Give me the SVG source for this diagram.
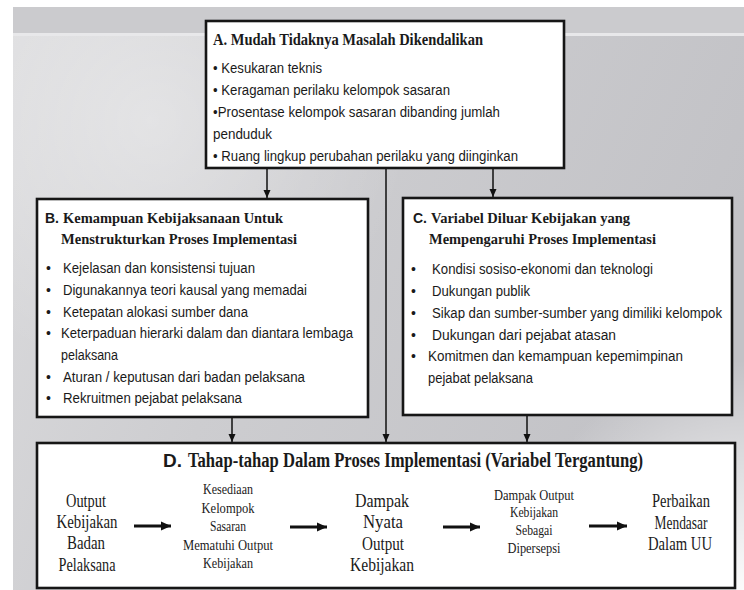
<svg xmlns="http://www.w3.org/2000/svg" width="744" height="590" viewBox="0 0 744 590">
<defs>
<linearGradient id="bg" x1="0" y1="0" x2="1" y2="0.35">
<stop offset="0" stop-color="#dcdcde"/>
<stop offset="0.45" stop-color="#cdcdd0"/>
<stop offset="1" stop-color="#c2c2c6"/>
</linearGradient>
<radialGradient id="glow" cx="744" cy="590" r="230" gradientUnits="userSpaceOnUse">
<stop offset="0" stop-color="#ffffff" stop-opacity="0.95"/>
<stop offset="0.6" stop-color="#ffffff" stop-opacity="0.4"/>
<stop offset="1" stop-color="#ffffff" stop-opacity="0"/>
</radialGradient>
<radialGradient id="glow2" cx="150" cy="120" r="260" gradientUnits="userSpaceOnUse">
<stop offset="0" stop-color="#ffffff" stop-opacity="0.35"/>
<stop offset="1" stop-color="#ffffff" stop-opacity="0"/>
</radialGradient>
<marker id="ah" viewBox="0 0 8 8" refX="8" refY="4" markerWidth="8" markerHeight="8" markerUnits="userSpaceOnUse" orient="auto">
<path d="M0,0.5 L8,4 L0,7.5 Z" fill="#111"/>
</marker>
<marker id="ahb" viewBox="0 0 10 10" refX="10" refY="5" markerWidth="10" markerHeight="10" markerUnits="userSpaceOnUse" orient="auto">
<path d="M0,0.5 L10,5 L0,9.5 Z" fill="#111"/>
</marker>
<style>
.box{fill:#fff;stroke:#161616;stroke-width:2.6}
.ttl{font-family:"Liberation Serif","Times New Roman",serif;font-weight:bold;fill:#1a1a1a}
.tsans{font-family:"Liberation Sans",Arial,sans-serif;font-weight:bold;fill:#1a1a1a}
.bl{font-family:"Liberation Sans",Arial,sans-serif;font-size:14px;fill:#1a1a1a}
.dt{font-family:"Liberation Serif","Times New Roman",serif;font-size:18px;fill:#1a1a1a;text-anchor:middle}
.ds{font-family:"Liberation Serif","Times New Roman",serif;font-size:14px;fill:#1a1a1a;text-anchor:middle}
.con{stroke:#111;stroke-width:1.5;fill:none}
.dar{stroke:#111;stroke-width:3;fill:none}
</style>
</defs>
<g id="background">
<rect width="744" height="590" fill="#ffffff"/>
<rect x="13" y="7" width="731" height="583" fill="url(#bg)"/>
<rect x="13" y="7" width="731" height="583" fill="url(#glow2)"/>
<rect x="13" y="7" width="731" height="583" fill="url(#glow)"/>
<rect x="13" y="7" width="731" height="26" fill="#cbcbce"/>
<rect x="13" y="33" width="731" height="3" fill="#e8e8ea"/>
</g>
<g id="connectors">
<line class="con" x1="267" y1="168" x2="267" y2="198" marker-end="url(#ah)"/>
<line class="con" x1="493" y1="168" x2="493" y2="197" marker-end="url(#ah)"/>
<line class="con" x1="386" y1="168" x2="386" y2="442" marker-end="url(#ah)"/>
<line class="con" x1="232" y1="417" x2="232" y2="442" marker-end="url(#ah)"/>
<line class="con" x1="527" y1="415" x2="527" y2="442" marker-end="url(#ah)"/>
</g>
<g id="nodeA">
<rect class="box" x="206" y="21" width="358" height="147"/>
<text class="ttl" x="213" y="45" font-size="16" textLength="270" lengthAdjust="spacingAndGlyphs">A. Mudah Tidaknya Masalah Dikendalikan</text>
<text class="bl" x="213" y="73" textLength="109" lengthAdjust="spacingAndGlyphs">• Kesukaran teknis</text>
<text class="bl" x="213" y="95" textLength="237" lengthAdjust="spacingAndGlyphs">• Keragaman perilaku kelompok sasaran</text>
<text class="bl" x="213" y="117" textLength="287" lengthAdjust="spacingAndGlyphs">•Prosentase kelompok sasaran dibanding jumlah</text>
<text class="bl" x="213" y="139" textLength="59" lengthAdjust="spacingAndGlyphs">penduduk</text>
<text class="bl" x="213" y="161" textLength="305" lengthAdjust="spacingAndGlyphs">• Ruang lingkup perubahan perilaku yang diinginkan</text>
</g>
<g id="nodeB">
<rect class="box" x="37" y="199" width="331" height="218"/>
<text class="tsans" x="45" y="223" font-size="14">B.</text>
<text class="ttl" x="63" y="223" font-size="15" textLength="220" lengthAdjust="spacingAndGlyphs">Kemampuan Kebijaksanaan Untuk</text>
<text class="ttl" x="61" y="244" font-size="15" textLength="236" lengthAdjust="spacingAndGlyphs">Menstrukturkan Proses Implementasi</text>
<text class="bl" x="46" y="273">•</text>
<text class="bl" x="63" y="273" textLength="192" lengthAdjust="spacingAndGlyphs">Kejelasan dan konsistensi tujuan</text>
<text class="bl" x="46" y="295">•</text>
<text class="bl" x="63" y="295" textLength="244" lengthAdjust="spacingAndGlyphs">Digunakannya teori kausal yang memadai</text>
<text class="bl" x="46" y="317">•</text>
<text class="bl" x="63" y="317" textLength="185" lengthAdjust="spacingAndGlyphs">Ketepatan alokasi sumber dana</text>
<text class="bl" x="46" y="338">•</text>
<text class="bl" x="61" y="338" textLength="292" lengthAdjust="spacingAndGlyphs">Keterpaduan hierarki dalam dan diantara lembaga</text>
<text class="bl" x="61" y="360" textLength="57" lengthAdjust="spacingAndGlyphs">pelaksana</text>
<text class="bl" x="46" y="382">•</text>
<text class="bl" x="63" y="382" textLength="242" lengthAdjust="spacingAndGlyphs">Aturan / keputusan dari badan pelaksana</text>
<text class="bl" x="46" y="403">•</text>
<text class="bl" x="63" y="403" textLength="179" lengthAdjust="spacingAndGlyphs">Rekruitmen pejabat pelaksana</text>
</g>
<g id="nodeC">
<rect class="box" x="403" y="198" width="329" height="217"/>
<text class="tsans" x="413" y="223" font-size="14">C.</text>
<text class="ttl" x="431" y="223" font-size="15" textLength="199" lengthAdjust="spacingAndGlyphs">Variabel Diluar Kebijakan yang</text>
<text class="ttl" x="429" y="244" font-size="15" textLength="227" lengthAdjust="spacingAndGlyphs">Mempengaruhi Proses Implementasi</text>
<text class="bl" x="411" y="274">•</text>
<text class="bl" x="432" y="274" textLength="221" lengthAdjust="spacingAndGlyphs">Kondisi sosiso-ekonomi dan teknologi</text>
<text class="bl" x="411" y="296">•</text>
<text class="bl" x="432" y="296" textLength="98" lengthAdjust="spacingAndGlyphs">Dukungan publik</text>
<text class="bl" x="411" y="318">•</text>
<text class="bl" x="432" y="318" textLength="290" lengthAdjust="spacingAndGlyphs">Sikap dan sumber-sumber yang dimiliki kelompok</text>
<text class="bl" x="411" y="340">•</text>
<text class="bl" x="432" y="340" textLength="184" lengthAdjust="spacingAndGlyphs">Dukungan dari pejabat atasan</text>
<text class="bl" x="411" y="361">•</text>
<text class="bl" x="428" y="361" textLength="255" lengthAdjust="spacingAndGlyphs">Komitmen dan kemampuan kepemimpinan</text>
<text class="bl" x="428" y="383" textLength="105" lengthAdjust="spacingAndGlyphs">pejabat pelaksana</text>
</g>
<g id="nodeD">
<rect class="box" x="37" y="443" width="698" height="145"/>
<text class="tsans" x="163" y="467" font-size="19">D.</text>
<text class="ttl" x="188" y="467" font-size="20" textLength="455" lengthAdjust="spacingAndGlyphs">Tahap-tahap Dalam Proses Implementasi (Variabel Tergantung)</text>
<g id="d-step1">
<text class="dt" x="86" y="507" textLength="40" lengthAdjust="spacingAndGlyphs">Output</text>
<text class="dt" x="87" y="528" textLength="61" lengthAdjust="spacingAndGlyphs">Kebijakan</text>
<text class="dt" x="86" y="549" textLength="38" lengthAdjust="spacingAndGlyphs">Badan</text>
<text class="dt" x="87" y="571" textLength="57" lengthAdjust="spacingAndGlyphs">Pelaksana</text>
</g>
<g id="d-step2">
<text class="ds" x="228" y="494" textLength="50" lengthAdjust="spacingAndGlyphs">Kesediaan</text>
<text class="ds" x="228" y="513" textLength="53" lengthAdjust="spacingAndGlyphs">Kelompok</text>
<text class="ds" x="228" y="531" textLength="36" lengthAdjust="spacingAndGlyphs">Sasaran</text>
<text class="ds" x="228" y="550" textLength="90" lengthAdjust="spacingAndGlyphs">Mematuhi Output</text>
<text class="ds" x="228" y="568" textLength="50" lengthAdjust="spacingAndGlyphs">Kebijakan</text>
</g>
<g id="d-step3">
<text class="dt" x="382" y="507" textLength="54" lengthAdjust="spacingAndGlyphs">Dampak</text>
<text class="dt" x="383" y="528" textLength="40" lengthAdjust="spacingAndGlyphs">Nyata</text>
<text class="dt" x="383" y="550" textLength="42" lengthAdjust="spacingAndGlyphs">Output</text>
<text class="dt" x="382" y="571" textLength="64" lengthAdjust="spacingAndGlyphs">Kebijakan</text>
</g>
<g id="d-step4">
<text class="ds" x="534" y="500" textLength="80" lengthAdjust="spacingAndGlyphs">Dampak Output</text>
<text class="ds" x="534" y="517" textLength="48" lengthAdjust="spacingAndGlyphs">Kebijakan</text>
<text class="ds" x="534" y="535" textLength="37" lengthAdjust="spacingAndGlyphs">Sebagai</text>
<text class="ds" x="534" y="553" textLength="53" lengthAdjust="spacingAndGlyphs">Dipersepsi</text>
</g>
<g id="d-step5">
<text class="dt" x="681" y="507" textLength="58" lengthAdjust="spacingAndGlyphs">Perbaikan</text>
<text class="dt" x="681" y="529" textLength="53" lengthAdjust="spacingAndGlyphs">Mendasar</text>
<text class="dt" x="680" y="550" textLength="64" lengthAdjust="spacingAndGlyphs">Dalam UU</text>
</g>
<g id="d-arrows">
<line class="dar" x1="134" y1="526" x2="171" y2="526" marker-end="url(#ahb)"/>
<line class="dar" x1="290" y1="527" x2="327" y2="527" marker-end="url(#ahb)"/>
<line class="dar" x1="443" y1="527" x2="480" y2="527" marker-end="url(#ahb)"/>
<line class="dar" x1="589" y1="526" x2="627" y2="526" marker-end="url(#ahb)"/>
</g>
</g>
</svg>
